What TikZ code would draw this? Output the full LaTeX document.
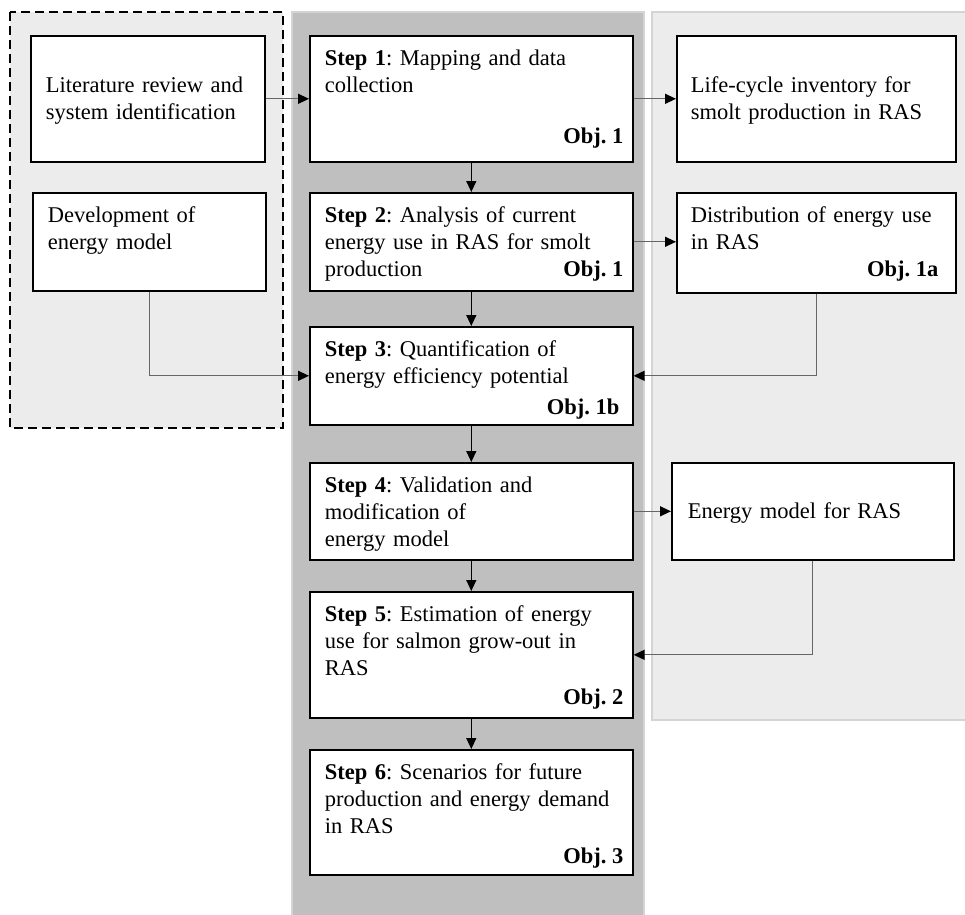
\documentclass[tikz,border=0pt]{standalone}
\usepackage{fontspec}
\setmainfont{Liberation Serif}
\frenchspacing
\usetikzlibrary{arrows.meta}

\tikzset{
    stepbox/.style={draw, line width=1.6pt, fill=white, anchor=north west,
        align=left, inner xsep=15pt, inner ysep=0pt, text height=29.5pt,
        font=\fontsize{22.5}{27}\selectfont},
    objtag/.style={font=\fontsize{22.5}{27}\selectfont\bfseries,
        anchor=base east, inner sep=0pt, xshift=-10pt, yshift=14pt},
    conn/.style={draw=black!60, line width=1.3pt,
        -{Triangle[length=11pt, width=10pt, color=black]}},
    vconn/.style={conn, draw=black},
    panel/.style={draw=black!17, line width=1.5pt}
}

\begin{document}
\begin{tikzpicture}[x=1pt, y=-1pt]
                        \useasboundingbox (0, 0) rectangle (965, 914);
                        % panels
                        \fill[black!7.5] (10, 12) rectangle (283, 428);
                        \draw[line width=1.3pt, dash pattern=on 9pt off 5pt] (10, 12) rectangle (283, 428);
                        \filldraw[panel, fill=black!25] (292, 12) rectangle (644, 916);
                        \filldraw[panel, fill=black!7.5] (652, 12) rectangle (968, 720);
                        % left column
                        \node[stepbox, text width=204pt, text height=57pt, text depth=69pt] (lit) at (30, 35)
                            {Literature review and\\system identification};
                        \node[stepbox, text width=203pt, text height=30pt, text depth=68pt] (dev) at (32, 192)
                            {Development of\\energy model};
                        % middle column
                        \node[stepbox, text width=293pt, text depth=96.5pt] (s1) at (309, 35)
                            {\textbf{Step 1}: Mapping and data\\collection};
                        \node[stepbox, text width=293pt, text depth=68.5pt] (s2) at (309, 192)
                            {\textbf{Step 2}: Analysis of current\\energy use in RAS for smolt\\production};
                        \node[stepbox, text width=293pt, text depth=68.5pt] (s3) at (309, 326)
                            {\textbf{Step 3}: Quantification of\\energy efficiency potential};
                        \node[stepbox, text width=293pt, text depth=67.5pt] (s4) at (309, 462)
                            {\textbf{Step 4}: Validation and\\modification of\\energy model};
                        \node[stepbox, text width=293pt, text depth=96.5pt] (s5) at (309, 591)
                            {\textbf{Step 5}: Estimation of energy\\use for salmon grow-out in\\RAS};
                        \node[stepbox, text width=293pt, text depth=95.5pt] (s6) at (309, 749)
                            {\textbf{Step 6}: Scenarios for future\\production and energy demand\\in RAS};
                        % right column
                        \node[stepbox, text width=251pt, text height=57pt, text depth=69pt, inner xsep=14pt] (lci) at (676, 35)
                            {Life-cycle inventory for\\smolt production in RAS};
                        \node[stepbox, text width=251pt, text height=30pt, text depth=70pt, inner xsep=14pt] (dist) at (676, 192)
                            {Distribution of energy use\\in RAS};
                        \node[stepbox, text width=250pt, text height=56pt, text depth=41pt, inner xsep=16pt] (emod) at (671, 462)
                            {Energy model for RAS};
                        % objectives
                        \node[objtag, yshift=5pt] (o1) at (s1.south east) {Obj. 1};
                        \node[objtag, yshift=1pt] (o2) at (s2.south east) {Obj. 1};
                        \node[objtag, xshift=-4pt, yshift=-3pt] (o3) at (s3.south east) {Obj. 1b};
                        \node[objtag] (o5) at (s5.south east) {Obj. 2};
                        \node[objtag, yshift=-2pt] (o6) at (s6.south east) {Obj. 3};
                        \node[objtag, xshift=-8pt, yshift=3pt] (o1a) at (dist.south east) {Obj. 1a};
                        % connectors
                        \draw[conn] (lit.east) -- (s1.west);
                        \draw[conn] (s1.east) -- (lci.west);
                        \draw[conn] (s2.east) -- (s2.east -| dist.west);
                        \draw[conn] (s4.east) -- (emod.west);
                        \draw[conn] (dev.south) |- (s3.west);
                        \draw[conn] (dist.south) |- (s3.east);
                        \draw[conn] (emod.south) |- (s5.east);
                        \draw[vconn] (s1) -- (s2);
                        \draw[vconn] (s2) -- (s3);
                        \draw[vconn] (s3) -- (s4);
                        \draw[vconn] (s4) -- (s5);
                        \draw[vconn] (s5) -- (s6);
                    \end{tikzpicture}
\end{document}
